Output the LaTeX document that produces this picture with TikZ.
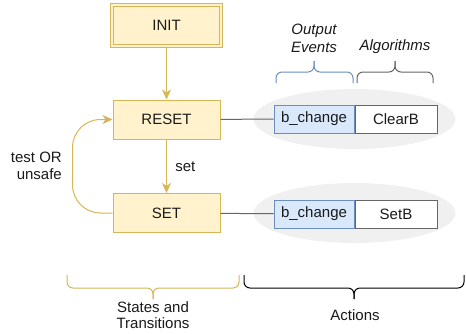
\documentclass[tikz,border=0pt]{standalone}
\usepackage{fontspec}
\setmainfont{Liberation Sans}
\usetikzlibrary{arrows.meta,positioning,shapes.geometric}

\definecolor{stateFill}{HTML}{FFF2CC}
\definecolor{stateLine}{HTML}{D6B656}
\definecolor{eventFill}{HTML}{DAE8FC}
\definecolor{eventLine}{HTML}{6C8EBF}
\definecolor{algoLine}{HTML}{666666}
\definecolor{actionBg}{HTML}{F0F0F0}
\definecolor{textCol}{HTML}{1A1A1A}

\tikzset{
    state/.style={draw=stateLine, fill=stateFill, line width=1pt, minimum width=107pt, minimum height=39pt, inner sep=0pt},
    initstate/.style={state, double=stateFill, double distance=2pt, minimum width=109pt, minimum height=41pt},
    event/.style={draw=eventLine, fill=eventFill, line width=1pt, minimum width=80pt, minimum height=28pt, inner sep=0pt},
    algo/.style={draw=algoLine, fill=white, line width=1pt, minimum width=82pt, minimum height=28pt, inner sep=0pt},
    actionbg/.style={ellipse, fill=actionBg, minimum width=202pt, minimum height=60pt, inner sep=0pt},
    trans/.style={draw=stateLine, line width=1pt, -{Stealth[length=10pt,width=9pt,inset=3pt]}},
    link/.style={draw=algoLine, line width=1pt},
    lbl/.style={align=center, inner sep=0pt},
    bracepath/.style={line width=1pt, rounded corners=6pt},
}

\begin{document}
\begin{tikzpicture}[x=1pt, y=-1pt, font=\fontsize{15}{17}\selectfont, text=textCol]
    \useasboundingbox (0,0) rectangle (466,333);

    % define nodes
    \node[initstate] (init) at (166.5,25.5) {INIT};
    \node[state] (reset) at (166.5,119.5) {RESET};
    \node[state] (set) at (166.5,213) {SET};

    \node[actionbg] (bg_reset) at (354.5,119) {};
    \node[actionbg] (bg_set) at (354.5,213) {};

    \node[event] (ev_reset) at (314,119) {b\_change};
    \node[algo, right=0pt of ev_reset] (alg_reset) {ClearB};
    \node[event] (ev_set) at (314,214) {b\_change};
    \node[algo, right=0pt of ev_set] (alg_set) {SetB};

    \node[lbl, align=right, anchor=east] (loop_lbl) at (62,165.5) {test OR\\unsafe};

    \node[lbl, font=\fontsize{15}{18}\selectfont\itshape] (out_lbl) at (314,38) {Output\\Events};
    \node[lbl, font=\fontsize{15}{18}\selectfont\itshape] (alg_lbl) at (395,47) {Algorithms};
    \node[lbl, font=\fontsize{15}{16}\selectfont] (st_lbl) at (153,315) {States and\\Transitions};
    \node[lbl] (act_lbl) at (355,315) {Actions};

    % connect the nodes
    \draw[trans] (init) -- (reset);
    \draw[trans] (reset) -- node[right=5pt] (set_lbl) {set} (set);
    \draw[trans, rounded corners=28pt] (set.west) -- ++(-40,0) |- (reset.west);

    \draw[link] (reset) -- (ev_reset);
    \draw[link] (set) -- (ev_set);

    % braces
    \draw[bracepath, eventLine] (276,83) -- (276,72) -- (314,72) -- (314,61);
    \draw[bracepath, eventLine] (353,83) -- (353,72) -- (314,72) -- (314,61);
    \draw[bracepath, algoLine] (357,83) -- (357,72) -- (395,72) -- (395,61);
    \draw[bracepath, algoLine] (433,83) -- (433,72) -- (395,72) -- (395,61);

    \draw[bracepath, stateLine] (67,275) -- (67,288) -- (153,288) -- (153,299);
    \draw[bracepath, stateLine] (239,275) -- (239,288) -- (153,288) -- (153,299);
    \draw[bracepath, black] (244,275) -- (244,288) -- (354,288) -- (354,299);
    \draw[bracepath, black] (464,275) -- (464,288) -- (354,288) -- (354,299);

\end{tikzpicture}
\end{document}
